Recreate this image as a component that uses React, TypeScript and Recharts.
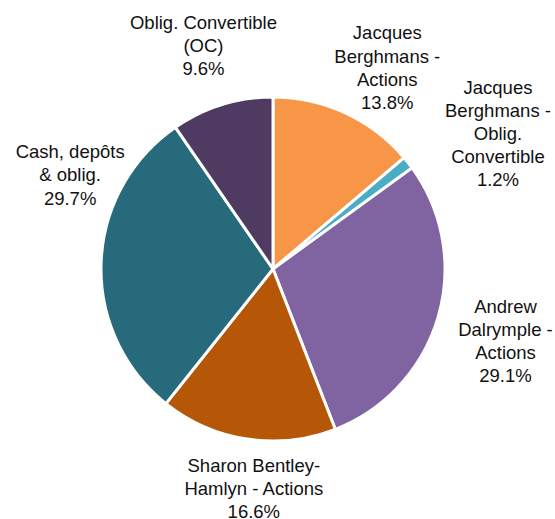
import { PieChart, Pie, Cell } from 'recharts';

const labels = [
  'Jacques Berghmans - Actions',
  'Jacques Berghmans - Oblig. Convertible',
  'Andrew Dalrymple - Actions',
  'Sharon Bentley-Hamlyn - Actions',
  'Cash, depôts & oblig.',
  'Oblig. Convertible (OC)',
];
const shares = [13.8, 1.2, 29.1, 16.6, 29.7, 9.6];
// how each label is broken into lines, as in the original
const labelLines = [
  ['Jacques', 'Berghmans -', 'Actions'],
  ['Jacques', 'Berghmans -', 'Oblig.', 'Convertible'],
  ['Andrew', 'Dalrymple -', 'Actions'],
  ['Sharon Bentley-', 'Hamlyn - Actions'],
  ['Cash, depôts', '& oblig.'],
  ['Oblig. Convertible', '(OC)'],
];
const colors = ['#F79646', '#4BACC6', '#8064A2', '#B65708', '#276A7C', '#4F3B62'];

// small nudges so labels sit where the original put them
const nudges = [
  [16, 11], [41, 9], [8, 6], [16, -12], [31, -86], [0, 0],
];

const data = labels.map((name, i) => ({ name, value: shares[i] }));

const FONT = '"Liberation Sans", Arial, sans-serif';
const RAD = Math.PI / 180;

function renderLabel(props: any) {
  const { cx, cy, midAngle, outerRadius, index, value } = props;
  const r = outerRadius + 62;
  const x = cx + r * Math.cos(-midAngle * RAD) + nudges[index][0];
  const y = cy + r * Math.sin(-midAngle * RAD) + nudges[index][1];
  const lines = [...labelLines[index], `${value.toFixed(1)}%`];
  const lh = 23.2;
  const top = y - ((lines.length - 1) * lh) / 2;
  return (
    <text key={index} x={x} y={top} textAnchor="middle" fill="#111" fontSize={18.5} fontFamily={FONT}>
      {lines.map((l, j) => (
        <tspan key={j} x={x} y={top + j * lh} dominantBaseline="central">{l}</tspan>
      ))}
    </text>
  );
}

export default function App() {
  return (
    <div style={{ width: 555, height: 519, background: '#fff' }}>
      <style>{'body { margin: 0; }'}</style>
      <PieChart width={555} height={519} margin={{ top: 0, right: 0, bottom: 0, left: 0 }}>
        <Pie
          data={data}
          dataKey="value"
          nameKey="name"
          cx={273}
          cy={269}
          outerRadius={172}
          startAngle={90}
          endAngle={-270}
          stroke="#fff"
          strokeWidth={3}
          label={renderLabel}
          labelLine={false}
          isAnimationActive={false}
        >
          {data.map((d, i) => (
            <Cell key={d.name} fill={colors[i]} />
          ))}
        </Pie>
      </PieChart>
    </div>
  );
}
